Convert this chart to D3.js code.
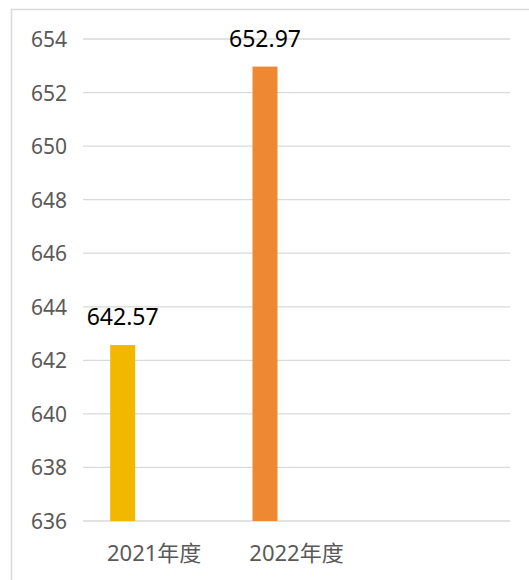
<!DOCTYPE html>
<html>
<head>
<meta charset="utf-8">
<script src="https://cdn.jsdelivr.net/npm/d3@7"></script>
<style>
  body { margin: 0; background: #fff; }
  svg { display: block; font-family: "Noto Sans", "Noto Sans CJK SC", sans-serif; }
</style>
</head>
<body>
<svg class="chart" width="529" height="580"></svg>
<script>
const categories = ["2021年度", "2022年度", ""];
const values = [642.57, 652.97];
const barColors = ["#F2B800", "#EF8833"];
const yTicks = [636, 638, 640, 642, 644, 646, 648, 650, 652, 654];

const svg = d3.select(".chart");
const plotLeft = 83, plotRight = 510, plotTop = 39, plotBottom = 521;

// chart frame (only top and left edges fall inside the picture)
svg.append("line").attr("x1", 11).attr("x2", 529).attr("y1", 9.5).attr("y2", 9.5)
    .attr("stroke", "#d9d9d9").attr("stroke-width", 1.5);
svg.append("line").attr("x1", 11.5).attr("x2", 11.5).attr("y1", 9).attr("y2", 580)
    .attr("stroke", "#d9d9d9").attr("stroke-width", 1.5);

let x = d3.scaleBand().domain(categories).range([plotLeft, plotRight]).padding(0);
let y = d3.scaleLinear().domain([636, 654]).range([plotBottom, plotTop]);

// gridlines
svg.selectAll("line.grid")
    .data(yTicks)
    .enter().append("line")
    .attr("class", "grid")
    .attr("x1", plotLeft).attr("x2", plotRight)
    .attr("y1", d => y(d)).attr("y2", d => y(d))
    .attr("stroke", "#d9d9d9").attr("stroke-width", 1.3);

// y tick labels
svg.selectAll("text.ytick")
    .data(yTicks)
    .enter().append("text")
    .attr("class", "ytick")
    .attr("x", 67)
    .attr("y", d => y(d))
    .attr("dy", "0.38em")
    .attr("text-anchor", "end")
    .attr("font-size", 21)
    .attr("fill", "#595959")
    .text(d => d);

// bars, shifted left inside each category like the source
const barWidth = 25, barOffset = -31.5;
const bars = svg.selectAll("g.bar")
    .data(values)
    .enter().append("g")
    .attr("class", "bar");
bars.append("rect")
    .attr("x", (d, i) => x(categories[i]) + x.bandwidth() / 2 + barOffset - barWidth / 2)
    .attr("y", d => y(d))
    .attr("width", barWidth)
    .attr("height", d => y(636) - y(d))
    .attr("fill", (d, i) => barColors[i]);
bars.append("text")
    .attr("x", (d, i) => x(categories[i]) + x.bandwidth() / 2 + barOffset)
    .attr("y", d => y(d) - 20)
    .attr("text-anchor", "middle")
    .attr("font-size", 23)
    .attr("fill", "#000")
    .text(d => d.toFixed(2));

// category labels
svg.selectAll("text.xcat")
    .data(categories)
    .enter().append("text")
    .attr("class", "xcat")
    .attr("x", d => x(d) + x.bandwidth() / 2)
    .attr("y", 561)
    .attr("text-anchor", "middle")
    .attr("font-size", 22)
    .attr("fill", "#595959")
    .text(d => d);
</script>
</body>
</html>
